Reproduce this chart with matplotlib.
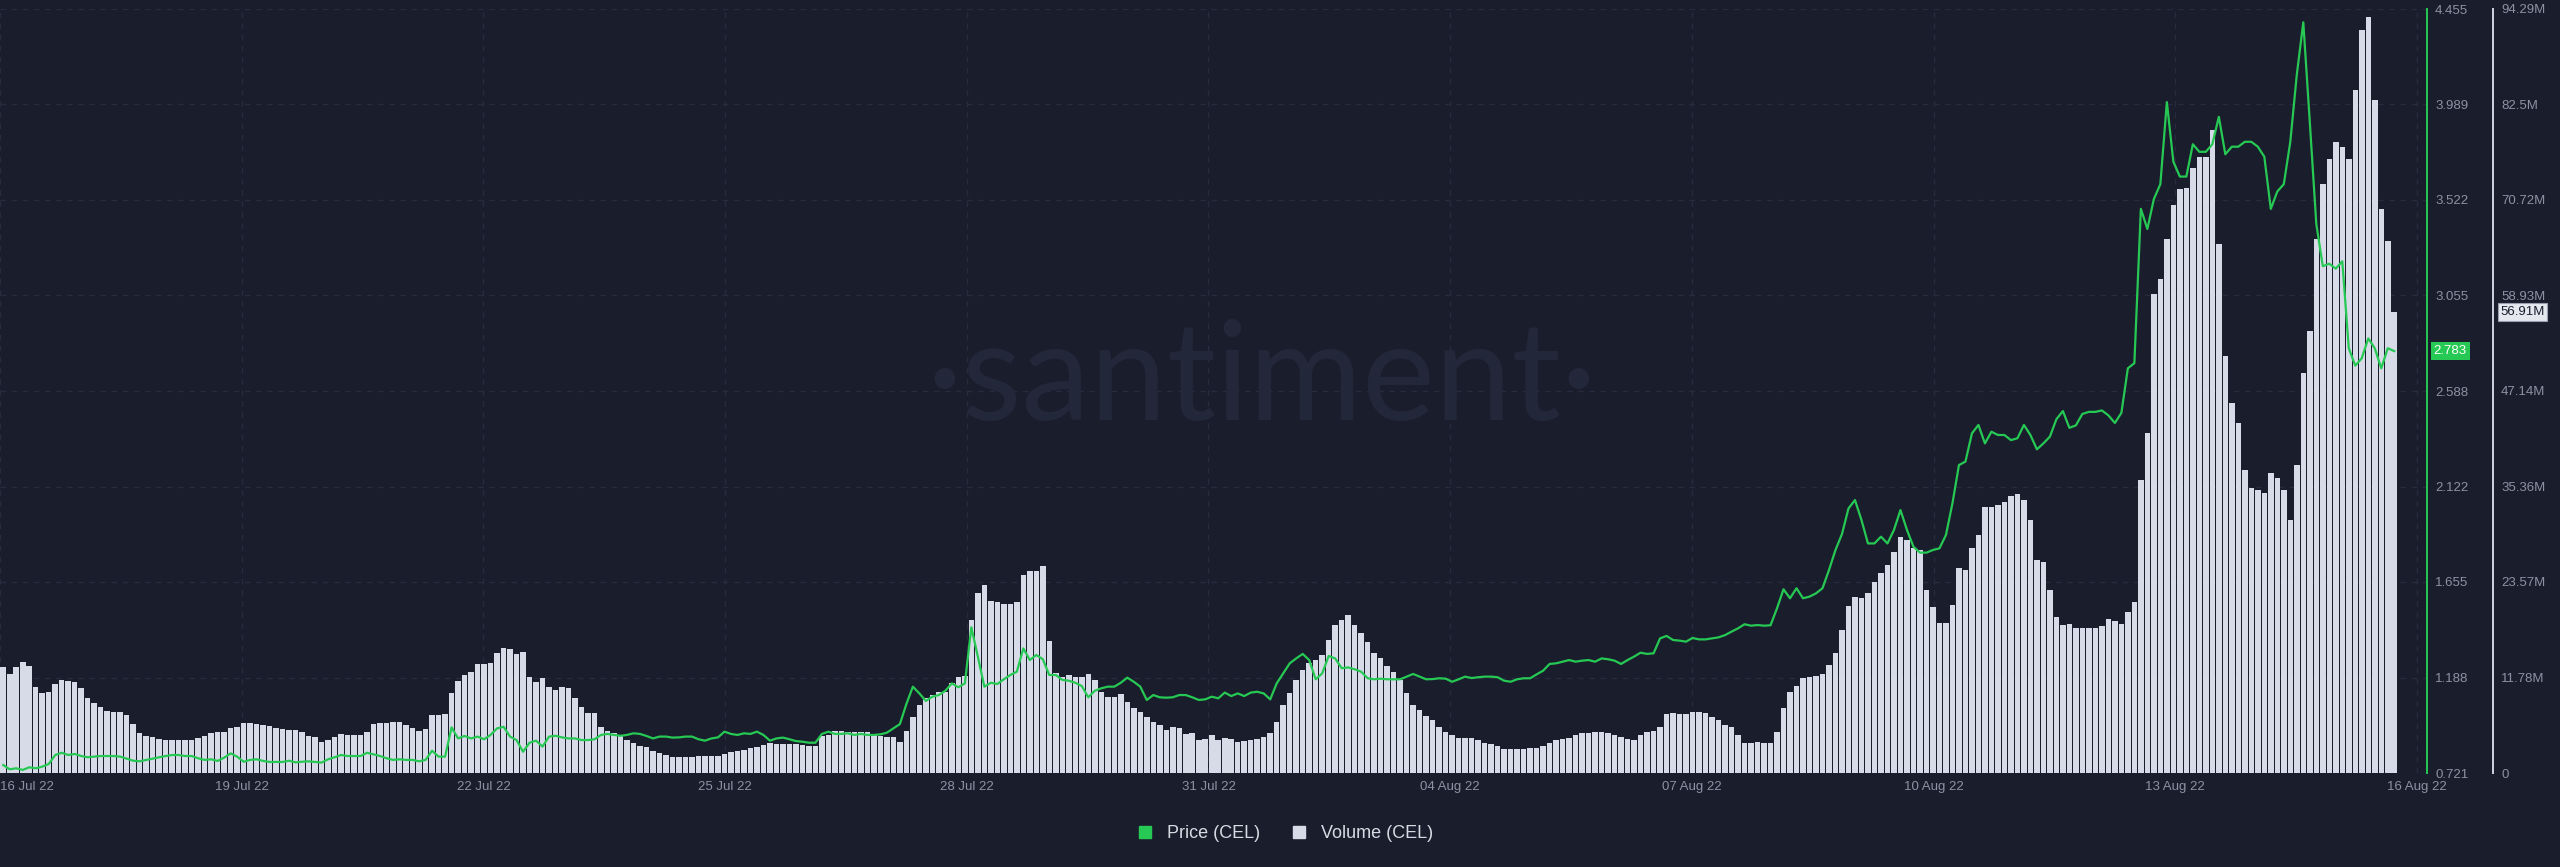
import matplotlib.pyplot as plt
import matplotlib.transforms as mtransforms
import matplotlib.dates as mdates
import pandas as pd
from matplotlib.lines import Line2D

plt.rcParams['font.family'] = ['Liberation Sans', 'DejaVu Sans']

# Volume (CEL), millions, 2-hourly
volume_m = [
    13.12, 12.22, 13.12, 13.74, 13.21, 10.57, 9.83, 10.04, 10.98, 11.48,
    11.31, 11.23, 10.45, 9.22, 8.68, 8.10, 7.69, 7.57, 7.49, 7.16,
    6.05, 4.90, 4.61, 4.44, 4.16, 4.07, 4.03, 4.11, 4.07, 4.11,
    4.28, 4.57, 4.94, 5.06, 5.10, 5.60, 5.64, 6.13, 6.17, 6.05,
    5.88, 5.84, 5.60, 5.47, 5.35, 5.27, 5.10, 4.61, 4.40, 3.87,
    4.07, 4.44, 4.77, 4.73, 4.73, 4.69, 5.10, 6.05, 6.13, 6.13,
    6.29, 6.29, 5.92, 5.51, 5.22, 5.39, 7.12, 7.20, 7.28, 9.83,
    11.40, 12.10, 12.51, 13.45, 13.45, 13.62, 14.85, 15.39, 15.26, 14.69,
    14.97, 11.81, 11.27, 11.68, 10.66, 10.24, 10.57, 10.45, 9.22, 8.10,
    7.45, 7.45, 5.72, 5.22, 4.90, 4.69, 4.07, 3.74, 3.33, 3.25,
    2.72, 2.51, 2.22, 2.02, 1.93, 1.93, 1.93, 2.14, 2.14, 2.14,
    2.14, 2.34, 2.63, 2.72, 2.84, 3.13, 3.25, 3.46, 3.66, 3.58,
    3.58, 3.58, 3.58, 3.46, 3.37, 3.37, 4.57, 4.69, 5.18, 5.18,
    5.10, 5.10, 5.10, 5.10, 4.69, 4.57, 4.40, 4.48, 3.87, 5.22,
    6.95, 8.39, 9.22, 9.63, 10.04, 10.04, 11.07, 11.89, 11.97, 18.88,
    22.17, 23.20, 21.23, 21.15, 20.86, 20.86, 21.15, 24.44, 24.97, 24.97,
    25.55, 16.33, 12.30, 11.89, 12.10, 11.89, 11.89, 12.22, 11.48, 10.04,
    9.42, 9.42, 9.75, 8.80, 7.98, 7.57, 6.95, 6.34, 5.92, 5.31,
    5.64, 5.51, 4.81, 4.98, 4.07, 4.16, 4.69, 4.07, 4.28, 4.16,
    3.87, 3.95, 4.07, 4.16, 4.48, 4.98, 6.34, 8.39, 9.83, 11.48,
    12.71, 13.54, 13.95, 14.56, 16.41, 18.27, 18.88, 19.50, 18.27, 17.24,
    16.21, 14.77, 14.15, 13.21, 12.51, 11.48, 9.83, 8.39, 7.78, 7.03,
    6.54, 5.72, 5.10, 4.69, 4.36, 4.28, 4.28, 4.07, 3.74, 3.54,
    3.33, 2.92, 2.92, 2.92, 2.92, 3.04, 3.13, 3.33, 3.74, 4.07,
    4.16, 4.36, 4.69, 4.90, 4.98, 5.06, 5.10, 4.90, 4.69, 4.48,
    4.16, 4.07, 4.69, 5.10, 5.18, 5.72, 7.28, 7.36, 7.28, 7.28,
    7.53, 7.49, 7.36, 6.95, 6.54, 5.92, 5.64, 4.69, 3.66, 3.66,
    3.78, 3.74, 3.74, 5.10, 7.98, 10.04, 10.74, 11.68, 11.81, 12.01,
    12.18, 13.33, 14.85, 17.65, 20.61, 21.76, 21.56, 22.17, 23.61, 24.64,
    25.67, 27.32, 29.17, 28.76, 27.73, 27.52, 22.59, 20.53, 18.47, 18.55,
    20.73, 25.26, 25.05, 27.73, 29.37, 32.87, 32.87, 33.08, 33.49, 34.23,
    34.43, 33.69, 31.23, 26.29, 26.08, 22.59, 19.29, 18.27, 18.34, 17.91,
    17.91, 17.91, 17.91, 18.16, 18.95, 18.77, 18.34, 19.88, 21.10, 36.15,
    41.98, 59.17, 61.01, 65.93, 70.10, 72.06, 72.19, 74.64, 76.06, 76.06,
    79.31, 65.31, 51.50, 45.66, 43.21, 37.37, 35.22, 34.92, 34.61, 37.07,
    36.45, 34.92, 31.23, 37.99, 49.35, 54.57, 65.93, 72.68, 75.75, 77.90,
    77.28, 75.75, 84.35, 91.71, 93.25, 83.12, 69.61, 65.62, 56.91,
]

# Price (CEL), USD, 2-hourly
price = [
    0.760, 0.739, 0.744, 0.736, 0.749, 0.744, 0.752, 0.765, 0.809, 0.820,
    0.809, 0.814, 0.804, 0.798, 0.801, 0.804, 0.804, 0.804, 0.801, 0.791,
    0.781, 0.778, 0.785, 0.791, 0.798, 0.804, 0.809, 0.809, 0.804, 0.804,
    0.793, 0.785, 0.788, 0.780, 0.796, 0.817, 0.801, 0.776, 0.785, 0.788,
    0.780, 0.775, 0.775, 0.775, 0.781, 0.773, 0.776, 0.778, 0.775, 0.772,
    0.788, 0.798, 0.809, 0.804, 0.804, 0.804, 0.820, 0.812, 0.804, 0.793,
    0.785, 0.788, 0.785, 0.785, 0.778, 0.785, 0.830, 0.801, 0.801, 0.944,
    0.890, 0.902, 0.890, 0.899, 0.886, 0.907, 0.939, 0.947, 0.899, 0.882,
    0.825, 0.869, 0.879, 0.850, 0.899, 0.903, 0.895, 0.890, 0.890, 0.882,
    0.882, 0.886, 0.907, 0.912, 0.907, 0.903, 0.907, 0.915, 0.912, 0.902,
    0.890, 0.899, 0.899, 0.894, 0.895, 0.899, 0.899, 0.886, 0.879, 0.890,
    0.895, 0.923, 0.912, 0.907, 0.915, 0.912, 0.923, 0.907, 0.879, 0.890,
    0.894, 0.886, 0.877, 0.874, 0.869, 0.869, 0.912, 0.923, 0.912, 0.912,
    0.915, 0.907, 0.912, 0.907, 0.907, 0.910, 0.918, 0.939, 0.960, 1.058,
    1.143, 1.110, 1.073, 1.094, 1.102, 1.123, 1.159, 1.140, 1.159, 1.433,
    1.290, 1.143, 1.162, 1.156, 1.179, 1.200, 1.216, 1.330, 1.273, 1.298,
    1.277, 1.200, 1.200, 1.176, 1.172, 1.162, 1.146, 1.091, 1.123, 1.135,
    1.143, 1.143, 1.162, 1.187, 1.167, 1.143, 1.078, 1.102, 1.091, 1.089,
    1.091, 1.102, 1.102, 1.091, 1.078, 1.081, 1.094, 1.086, 1.114, 1.097,
    1.110, 1.097, 1.114, 1.118, 1.110, 1.081, 1.159, 1.208, 1.257, 1.281,
    1.303, 1.273, 1.179, 1.208, 1.293, 1.281, 1.233, 1.237, 1.228, 1.216,
    1.184, 1.179, 1.182, 1.179, 1.179, 1.179, 1.192, 1.205, 1.192, 1.179,
    1.180, 1.184, 1.182, 1.167, 1.179, 1.192, 1.185, 1.189, 1.192, 1.192,
    1.189, 1.172, 1.167, 1.179, 1.184, 1.184, 1.203, 1.221, 1.254, 1.257,
    1.265, 1.273, 1.265, 1.270, 1.273, 1.265, 1.281, 1.277, 1.270, 1.254,
    1.273, 1.290, 1.309, 1.303, 1.306, 1.379, 1.391, 1.371, 1.368, 1.363,
    1.381, 1.374, 1.374, 1.379, 1.384, 1.395, 1.412, 1.428, 1.448, 1.441,
    1.444, 1.441, 1.443, 1.526, 1.619, 1.575, 1.624, 1.575, 1.583, 1.599,
    1.624, 1.713, 1.811, 1.889, 2.014, 2.055, 1.957, 1.843, 1.843, 1.876,
    1.843, 1.909, 2.006, 1.909, 1.827, 1.798, 1.798, 1.811, 1.819, 1.884,
    2.039, 2.226, 2.243, 2.381, 2.422, 2.332, 2.389, 2.373, 2.373, 2.348,
    2.357, 2.422, 2.373, 2.303, 2.332, 2.365, 2.450, 2.490, 2.408, 2.420,
    2.476, 2.486, 2.486, 2.493, 2.469, 2.432, 2.481, 2.699, 2.724, 3.478,
    3.380, 3.526, 3.599, 4.000, 3.709, 3.636, 3.636, 3.794, 3.757, 3.757,
    3.794, 3.928, 3.745, 3.782, 3.782, 3.806, 3.806, 3.782, 3.733, 3.478,
    3.563, 3.599, 3.806, 4.134, 4.390, 3.903, 3.405, 3.198, 3.210, 3.186,
    3.222, 2.797, 2.712, 2.748, 2.845, 2.797, 2.699, 2.797, 2.783,
]

x_tick_labels = ['16 Jul 22', '19 Jul 22', '22 Jul 22', '25 Jul 22', '28 Jul 22',
                 '31 Jul 22', '04 Aug 22', '07 Aug 22', '10 Aug 22', '13 Aug 22',
                 '16 Aug 22']
price_ticks = [0.721, 1.188, 1.655, 2.122, 2.588, 3.055, 3.522, 3.989, 4.455]
volume_tick_labels = ['0', '11.78M', '23.57M', '35.36M', '47.14M', '58.93M',
                      '70.72M', '82.5M', '94.29M']
volume_top = 94.29

# colores
BG = '#1a1d2c'
GREEN = '#26c953'
BAR = '#d7dae7'
GRID = '#272b3d'
TXT = '#8d92a3'

times = pd.date_range('2022-07-16 12:00', periods=len(price), freq='2h')
x = mdates.date2num(times)
x0 = mdates.date2num(pd.Timestamp('2022-07-16 11:00'))
px_per_day = 241.7 / 3.1

fig = plt.figure(figsize=(25.6, 8.67), dpi=100, facecolor=BG)
ax = fig.add_axes([0, 94 / 867, 2427 / 2560, 764 / 867])
ax.set_facecolor(BG)
ax2 = ax.twinx()

# volumen
ax.bar(x, volume_m, width=2 / 24 * 0.85, color=BAR, linewidth=0, zorder=2)
ax.set_ylim(0, volume_top)
ax.set_xlim(x0, x0 + 2427 / px_per_day)

# precio
ax2.plot(x, price, color=GREEN, linewidth=1.6, zorder=3)
ax2.set_ylim(price_ticks[0], price_ticks[-1])

# ejes
vol_ticks = [volume_top * k / 8 for k in range(9)]
ax.yaxis.tick_right()
ax.set_yticks(vol_ticks, volume_tick_labels)
ax2.set_yticks(price_ticks, [f'{t:.3f}' for t in price_ticks])
tick_pos = [x0 + 3.1 * k for k in range(len(x_tick_labels))]
ax.set_xticks(tick_pos, x_tick_labels)
ax.get_xticklabels()[0].set_horizontalalignment('left')

for a in (ax, ax2):
    for s in a.spines.values():
        s.set_visible(False)
ax.spines['right'].set_visible(True)
ax.spines['right'].set_position(('outward', 66 * 0.72))
ax.spines['right'].set_color('#d0d3de')
ax.spines['right'].set_linewidth(1.4)
ax2.spines['right'].set_visible(True)
ax2.spines['right'].set_color(GREEN)
ax2.spines['right'].set_linewidth(1.4)

ax.tick_params(axis='y', length=0, pad=5.8, labelcolor=TXT, labelsize=9.5)
ax2.tick_params(axis='y', length=0, pad=5.8, labelcolor=TXT, labelsize=9.5)
ax.tick_params(axis='x', length=0, pad=5.8, labelcolor=TXT, labelsize=9.5)

ax.set_axisbelow(True)
ax.grid(True, color=GRID, linestyle=(0, (4, 4)), linewidth=1)

# marca de agua
ax.text(0.52, 0.512, '\u00b7santiment\u00b7', transform=ax.transAxes,
        ha='center', va='center', fontsize=99, color='#23273a',
        family=['Lato', 'DejaVu Sans'], fontweight='normal', zorder=0.6)

# etiquetas de valor actual
tr2 = mtransforms.blended_transform_factory(ax2.transAxes, ax2.transData)
ax2.text(1.0028, price[-1], f'{price[-1]:.3f}', transform=tr2, ha='left', va='center',
         fontsize=9.5, color='white', clip_on=False,
         bbox=dict(boxstyle='square,pad=0.2', fc=GREEN, ec='none'))
tr1 = mtransforms.blended_transform_factory(ax.transAxes, ax.transData)
ax.text(1.0302, volume_m[-1], f'{volume_m[-1]:.2f}M', transform=tr1, ha='left', va='center',
        fontsize=9.5, color='#1a1d2c', clip_on=False, zorder=5,
        bbox=dict(boxstyle='square,pad=0.2', fc='#e6e8f0', ec='#9a9fb0', lw=0.8))

# leyenda
handles = [Line2D([], [], marker='s', linestyle='', color=GREEN, markersize=9),
           Line2D([], [], marker='s', linestyle='', color=BAR, markersize=9)]
fig.legend(handles, ['Price (CEL)', 'Volume (CEL)'], loc='center',
           bbox_to_anchor=(0.5, 1 - 834 / 867), ncol=2, frameon=False,
           labelcolor='#d8dae3', fontsize=13, handletextpad=0.2, columnspacing=1.2)

fig.savefig('out.png', dpi=100, facecolor=BG)
plt.close(fig)
